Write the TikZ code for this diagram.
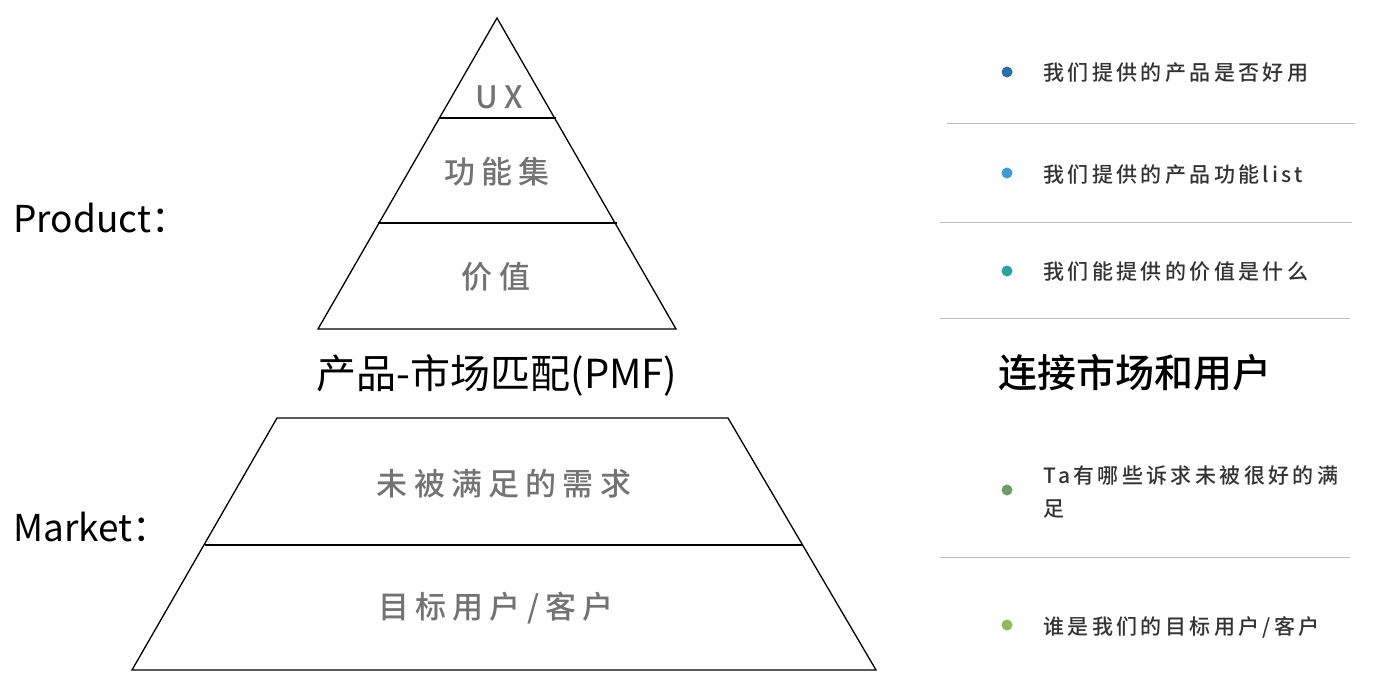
\documentclass[tikz,border=0pt]{standalone}
\usepackage{fontspec}
\setmainfont{Noto Sans CJK SC}
\newfontfamily\medfont{Noto Sans CJK SC Medium}
\definecolor{c1}{HTML}{2B6FA6}
\definecolor{c2}{HTML}{3C9AD8}
\definecolor{c3}{HTML}{2AA3A8}
\definecolor{c4}{HTML}{6A9E62}
\definecolor{c5}{HTML}{8DBB58}
\begin{document}
\begin{tikzpicture}[x=1pt,y=-1pt,
  shp/.style={draw=black,line width=1.3pt},
  lvl/.style={font=\medfont\fontsize{31}{31}\selectfont\addfontfeature{LetterSpace=20},text=black!55},
  side/.style={font=\fontsize{37}{37}\selectfont,anchor=west},
  item/.style={font=\medfont\fontsize{21}{33}\selectfont\addfontfeature{LetterSpace=16},anchor=west,text=black!80,align=left},
  dot/.style={circle,inner sep=0pt,minimum size=11pt},
  rule/.style={draw=black!25,line width=0.8pt}]
\useasboundingbox (0,0) rectangle (1373,678);
% top pyramid
\coordinate (ap) at (497,18);
\coordinate (bl) at (318,329);
\coordinate (br) at (676,329);
\draw[shp] (ap) -- (br) -- (bl) -- cycle;
\coordinate (l1a) at (439,118); \coordinate (l1b) at (556,118);
\coordinate (l2a) at (378,223); \coordinate (l2b) at (617,223);
\draw[shp] (l1a) -- (l1b);
\draw[shp] (l2a) -- (l2b);
\node[lvl] (ux) at (499,97) {UX};
\node[lvl] (fn) at (497,172) {功能集};
\node[lvl] (val) at (496,277) {价值};
\node[font=\fontsize{40}{40}\selectfont] (pmf) at (497,375) {产品-市场匹配(PMF)};
% bottom trapezoid
\coordinate (t1) at (277,418); \coordinate (t2) at (728,418);
\coordinate (b1) at (132,670); \coordinate (b2) at (876,670);
\draw[shp] (t1) -- (t2) -- (b2) -- (b1) -- cycle;
\coordinate (m1) at (205,545); \coordinate (m2) at (803,545);
\draw[shp] (m1) -- (m2);
\node[lvl] (need) at (504,484) {未被满足的需求};
\node[lvl] (user) at (496,608) {目标用户/客户};
\node[side] (prod) at (10,218) {Product：};
\node[side] (mkt) at (10,527) {Market：};
% right side
\node[dot,fill=c1] (d1) at (1007,72) {};
\node[item] (i1) at (1040,73) {我们提供的产品是否好用};
\draw[rule] (947,123) coordinate (r1a) -- (1355,123) coordinate (r1b);
\node[dot,fill=c2] (d2) at (1007,173) {};
\node[item] (i2) at (1040,175) {我们提供的产品功能list};
\draw[rule] (940,222) coordinate (r2a) -- (1352,222) coordinate (r2b);
\node[dot,fill=c3] (d3) at (1007,271) {};
\node[item] (i3) at (1040,272) {我们能提供的价值是什么};
\draw[rule] (940,318) coordinate (r3a) -- (1350,318) coordinate (r3b);
\node[font=\medfont\fontsize{39}{39}\selectfont,anchor=west] (conn) at (995,373) {连接市场和用户};
\node[dot,fill=c4] (d4) at (1007,490) {};
\node[item] (i4) at (1040,492) {Ta有哪些诉求未被很好的满\\足};
\draw[rule] (940,557) coordinate (r4a) -- (1350,557) coordinate (r4b);
\node[dot,fill=c5] (d5) at (1007,625) {};
\node[item] (i5) at (1040,627) {谁是我们的目标用户/客户};
\end{tikzpicture}
\end{document}
